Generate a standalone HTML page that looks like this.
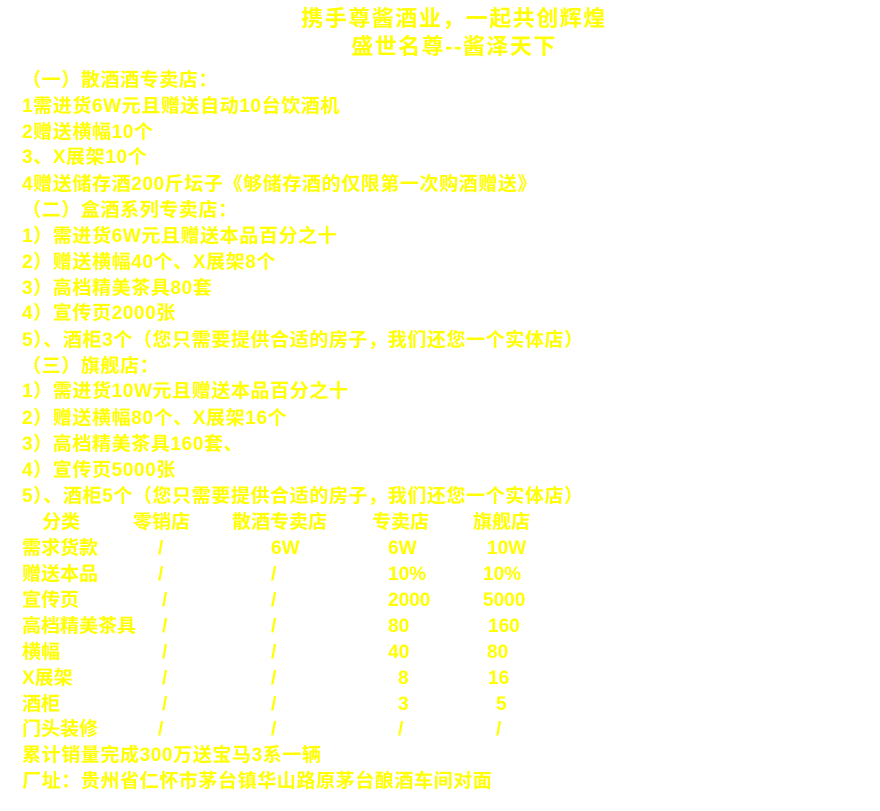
<!DOCTYPE html>
<html><head><meta charset="utf-8"><style>
body{margin:0;width:880px;height:811px;background:#fff;overflow:hidden;position:relative;font-family:"Liberation Sans","Noto Sans CJK SC",sans-serif;color:#ffff00;font-weight:bold}
.l{position:absolute;left:22px;font-size:19px;line-height:26px;white-space:nowrap;letter-spacing:0.6px}
.t{position:absolute;left:0;width:908px;text-align:center;font-size:22px;line-height:28px;letter-spacing:1.5px}
.c{position:absolute;font-size:19px;line-height:26px;white-space:nowrap}
</style></head><body>
<div class="t" style="top:5px">携手尊酱酒业，一起共创辉煌</div>
<div class="t" style="top:33px">盛世名尊--酱泽天下</div>
<div class="l" style="top:68px">（一）散酒酒专卖店：</div>
<div class="l" style="top:94px">1需进货6W元且赠送自动10台饮酒机</div>
<div class="l" style="top:120px">2赠送横幅10个</div>
<div class="l" style="top:145px">3、X展架10个</div>
<div class="l" style="top:172px">4赠送储存酒200斤坛子《够储存酒的仅限第一次购酒赠送》</div>
<div class="l" style="top:198px">（二）盒酒系列专卖店：</div>
<div class="l" style="top:224px">1）需进货6W元且赠送本品百分之十</div>
<div class="l" style="top:250px">2）赠送横幅40个、X展架8个</div>
<div class="l" style="top:276px">3）高档精美茶具80套</div>
<div class="l" style="top:301px">4）宣传页2000张</div>
<div class="l" style="top:328px">5）、酒柜3个（您只需要提供合适的房子，我们还您一个实体店）</div>
<div class="l" style="top:354px">（三）旗舰店：</div>
<div class="l" style="top:379px">1）需进货10W元且赠送本品百分之十</div>
<div class="l" style="top:406px">2）赠送横幅80个、X展架16个</div>
<div class="l" style="top:432px">3）高档精美茶具160套、</div>
<div class="l" style="top:458px">4）宣传页5000张</div>
<div class="l" style="top:484px">5）、酒柜5个（您只需要提供合适的房子，我们还您一个实体店）</div>
<div class="c" style="top:510px;left:42px">分类</div>
<div class="c" style="top:510px;left:133px">零销店</div>
<div class="c" style="top:510px;left:232px">散酒专卖店</div>
<div class="c" style="top:510px;left:372px">专卖店</div>
<div class="c" style="top:510px;left:473px">旗舰店</div>

<div class="c" style="top:536px;left:22px">需求货款</div><div class="c" style="top:536px;left:158px">/</div><div class="c" style="top:536px;left:271px">6W</div><div class="c" style="top:536px;left:388px">6W</div><div class="c" style="top:536px;left:487px">10W</div>
<div class="c" style="top:562px;left:22px">赠送本品</div><div class="c" style="top:562px;left:158px">/</div><div class="c" style="top:562px;left:271px">/</div><div class="c" style="top:562px;left:388px">10%</div><div class="c" style="top:562px;left:483px">10%</div>
<div class="c" style="top:588px;left:22px">宣传页</div><div class="c" style="top:588px;left:162px">/</div><div class="c" style="top:588px;left:271px">/</div><div class="c" style="top:588px;left:388px">2000</div><div class="c" style="top:588px;left:483px">5000</div>
<div class="c" style="top:614px;left:22px">高档精美茶具</div><div class="c" style="top:614px;left:162px">/</div><div class="c" style="top:614px;left:271px">/</div><div class="c" style="top:614px;left:388px">80</div><div class="c" style="top:614px;left:488px">160</div>
<div class="c" style="top:640px;left:22px">横幅</div><div class="c" style="top:640px;left:162px">/</div><div class="c" style="top:640px;left:271px">/</div><div class="c" style="top:640px;left:388px">40</div><div class="c" style="top:640px;left:487px">80</div>
<div class="c" style="top:666px;left:22px">X展架</div><div class="c" style="top:666px;left:162px">/</div><div class="c" style="top:666px;left:271px">/</div><div class="c" style="top:666px;left:398px">8</div><div class="c" style="top:666px;left:488px">16</div>
<div class="c" style="top:692px;left:22px">酒柜</div><div class="c" style="top:692px;left:162px">/</div><div class="c" style="top:692px;left:271px">/</div><div class="c" style="top:692px;left:398px">3</div><div class="c" style="top:692px;left:496px">5</div>
<div class="c" style="top:717px;left:22px">门头装修</div><div class="c" style="top:717px;left:158px">/</div><div class="c" style="top:717px;left:271px">/</div><div class="c" style="top:717px;left:398px">/</div><div class="c" style="top:717px;left:496px">/</div>
<div class="l" style="top:743px">累计销量完成300万送宝马3系一辆</div>
<div class="l" style="top:769px">厂址：贵州省仁怀市茅台镇华山路原茅台酿酒车间对面</div>
</body></html>
